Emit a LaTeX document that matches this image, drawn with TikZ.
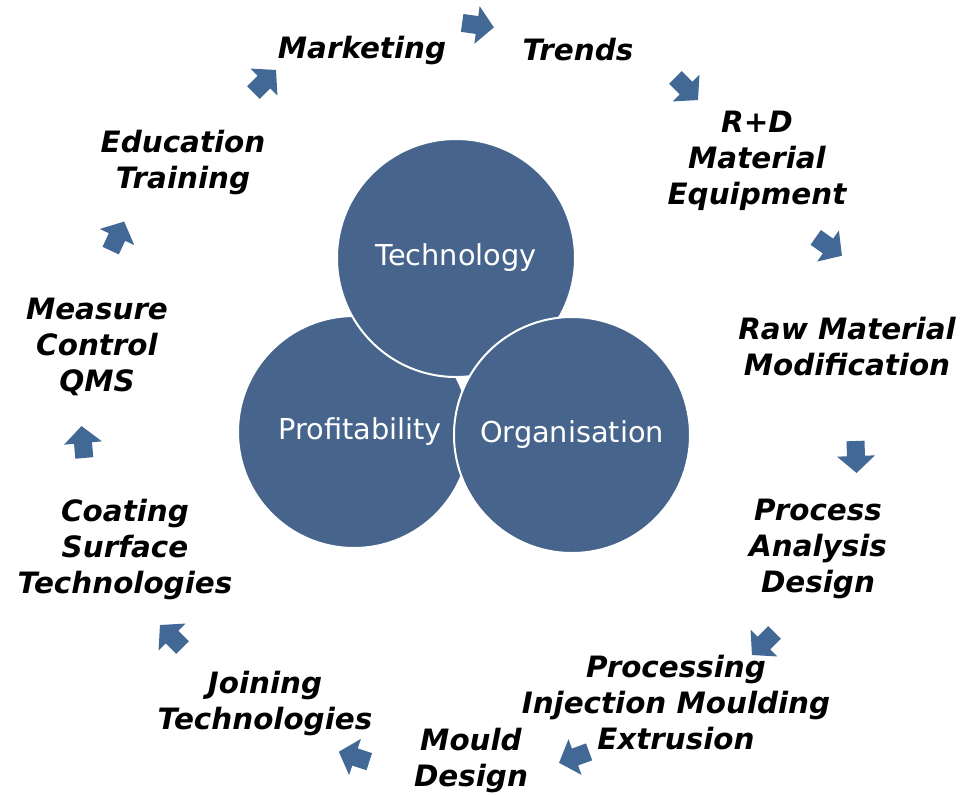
\documentclass[tikz,border=0pt]{standalone}
\usepackage{fontspec}
\newfontfamily\lblfont{DejaVu Sans Bold Oblique}
\newfontfamily\circfont{DejaVu Sans}
\definecolor{circblue}{RGB}{71,101,140}
\definecolor{arrblue}{RGB}{66,104,150}
\begin{document}
\begin{tikzpicture}[x=0.5pt,y=-0.5pt,
  lbl/.style={font=\lblfont\fontsize{14.7}{18}\selectfont, align=center, inner sep=0pt},
  circ/.style={circle, fill=circblue, draw=white, line width=1pt, text=white,
    font=\circfont\fontsize{14.4}{17}\selectfont, inner sep=0pt},
  blockarr/.pic={\fill[arrblue] (-15,-9) -- (0,-9) -- (0,-19) -- (17,0) -- (0,19) -- (0,9) -- (-15,9) -- cycle;}]
\fill[white] (0,0) rectangle (960,794);
\useasboundingbox (0,0) rectangle (960,794);
% circles
\node[circ, minimum size=116pt] (prof) at (354,432) {\hspace*{6pt}Profitability};
\node[circ, minimum size=119pt] (tech) at (456,258) {Technology};
\node[circ, minimum size=118pt] (org) at (572,435) {Organisation};
% labels
\node[lbl] (mkt) at (362,50) {Marketing};
\node[lbl] (trd) at (578,50) {Trends};
\node[lbl] (rd) at (757,161) {R+D\\Material\\Equipment};
\node[lbl] (raw) at (847,347) {Raw Material\\Modification};
\node[lbl] (proc) at (818,549) {Process\\Analysis\\Design};
\node[lbl] (inj) at (676,703) {Processing\\Injection Moulding\\Extrusion};
\node[lbl] (mould) at (471,760) {Mould\\Design};
\node[lbl] (join) at (265,703) {Joining\\Technologies};
\node[lbl] (coat) at (125,549) {Coating\\Surface\\Technologies};
\node[lbl] (meas) at (97,347) {Measure\\Control\\QMS};
\node[lbl] (edu) at (183,162) {Education\\Training};
% arrows
\pic[rotate=-8] (a1) at (477,25) {blockarr};
\pic[rotate=-45] (a2) at (686,88) {blockarr};
\pic[rotate=-35] (a3) at (828,246) {blockarr};
\pic[rotate=-88] (a4) at (856,456) {blockarr};
\pic[rotate=-135] (a5) at (764,643) {blockarr};
\pic[rotate=-160] (a6) at (575,757) {blockarr};
\pic[rotate=162] (a7) at (355,757) {blockarr};
\pic[rotate=135] (a8) at (172,637) {blockarr};
\pic[rotate=95] (a9) at (83,443) {blockarr};
\pic[rotate=65] (a10) at (117,237) {blockarr};
\pic[rotate=45] (a11) at (264,82) {blockarr};
\end{tikzpicture}
\end{document}
